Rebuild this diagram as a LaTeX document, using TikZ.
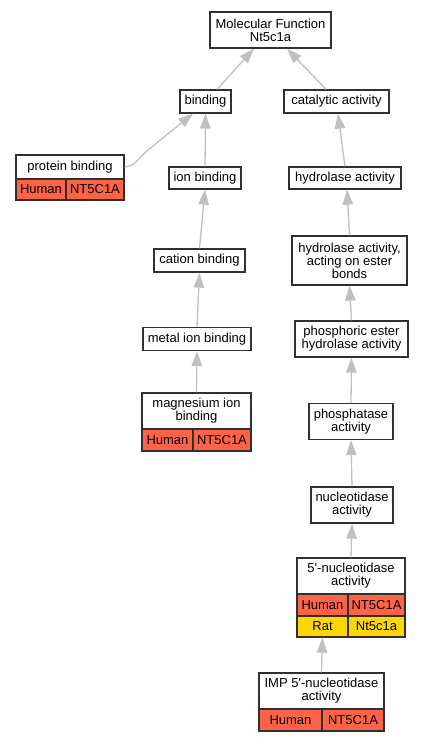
\documentclass[tikz,border=0pt]{standalone}
\usepackage{fontspec}
\setmainfont{Liberation Sans}[Ligatures=TeXOff]
\usepackage{xcolor}
\usepackage{tikz}
\usetikzlibrary{calc, positioning, arrows.meta}
\definecolor{humanred}{HTML}{FF6347}
\definecolor{ratgold}{HTML}{FFD700}
\definecolor{edgegray}{HTML}{C0C0C0}
\definecolor{boxline}{HTML}{303030}
\tikzset{
    term/.style={draw=boxline, line width=1.3pt, fill=white, align=center,
        inner sep=0pt, font=\fontsize{13}{13}\selectfont},
    human/.style={term, fill=humanred},
    rat/.style={term, fill=ratgold},
    isa/.style={draw=edgegray, line width=1.3pt,
        -{Triangle[length=15pt, width=10.5pt]}},
}

\begin{document}
\begin{tikzpicture}[x=1pt, y=-1pt]
    \useasboundingbox (0,0) rectangle (424,741);
    % left branch
    \node[term, minimum width=121pt, minimum height=36pt] (mf) at (270.5,30) {Molecular Function\\Nt5c1a};
    \node[term, minimum width=51pt, minimum height=23pt] (binding) at (205.5,101.5) {binding};
    \node[term, minimum width=105pt, minimum height=23pt] (catalytic) at (336.5,101.5) {catalytic activity};
    \node[term, minimum width=108pt, minimum height=24pt] (pbind) at (70,167) {protein binding};
    \node[human, minimum width=50pt, minimum height=21pt] (pbindh) at (41,189.5) {Human};
    \node[human, minimum width=58pt, minimum height=21pt] (pbindg) at (95,189.5) {NT5C1A};
    \node[term, minimum width=72pt, minimum height=22pt] (ion) at (205,178) {ion binding};
    \node[term, minimum width=91pt, minimum height=23pt] (cation) at (199.5,260.5) {cation binding};
    \node[term, minimum width=108pt, minimum height=23pt] (metal) at (197,339) {metal ion binding};
    \node[term, minimum width=109pt, minimum height=36pt] (mg) at (196.5,411) {magnesium ion\\binding};
    \node[human, minimum width=51pt, minimum height=22pt] (mgh) at (167.5,440) {Human};
    \node[human, minimum width=58pt, minimum height=22pt] (mgg) at (222,440) {NT5C1A};
    % right branch
    \node[term, minimum width=112pt, minimum height=22pt] (hydro) at (345,178) {hydrolase activity};
    \node[term, minimum width=115pt, minimum height=49pt] (ester) at (349.5,260.5) {hydrolase activity,\\acting on ester\\bonds};
    \node[term, minimum width=113pt, minimum height=36pt] (phos) at (351.5,339) {phosphoric ester\\hydrolase activity};
    \node[term, minimum width=84pt, minimum height=36pt] (phtase) at (351,421.5) {phosphatase\\activity};
    \node[term, minimum width=82pt, minimum height=36pt] (nuc) at (352,505) {nucleotidase\\activity};
    \node[term, minimum width=108pt, minimum height=36pt] (nuc5) at (351,576) {5'-nucleotidase\\activity};
    \node[human, minimum width=51pt, minimum height=22pt] (nuc5h) at (322.5,605) {Human};
    \node[human, minimum width=57pt, minimum height=22pt] (nuc5g) at (376.5,605) {NT5C1A};
    \node[rat, minimum width=51pt, minimum height=21pt] (nuc5r) at (322.5,626.5) {Rat};
    \node[rat, minimum width=57pt, minimum height=21pt] (nuc5rg) at (376.5,626.5) {Nt5c1a};
    \node[term, minimum width=125pt, minimum height=36pt] (imp) at (321.5,691) {IMP 5'-nucleotidase\\activity};
    \node[human, minimum width=63pt, minimum height=22pt] (imph) at (290.5,720) {Human};
    \node[human, minimum width=62pt, minimum height=22pt] (impg) at (353,720) {NT5C1A};
    % is-a edges
    \draw[isa] ([xshift=11.5pt]binding.north) -- ([xshift=-16.5pt]mf.south);
    \draw[isa] ([xshift=-10.5pt]catalytic.north) -- ([xshift=16.5pt]mf.south);
    \draw[isa] (pbind.east) .. controls (136,166) and (138.8,157.4) .. (148,150) -- ([xshift=-12.5pt]binding.south);
    \draw[isa] (ion.north) -- (binding.south);
    \draw[isa] (cation.north) -- (ion.south);
    \draw[isa] (metal.north) -- (cation.south);
    \draw[isa] (mg.north) -- (metal.south);
    \draw[isa] (hydro.north) -- ([xshift=1.5pt]catalytic.south);
    \draw[isa] (ester.north) -- ([xshift=2pt]hydro.south);
    \draw[isa] (phos.north) -- (ester.south);
    \draw[isa] (phtase.north) -- (phos.south);
    \draw[isa] (nuc.north) -- (phtase.south);
    \draw[isa] (nuc5.north) -- (nuc.south);
    \draw[isa] (imp.north) -- (nuc5r.south);
\end{tikzpicture}
\end{document}
